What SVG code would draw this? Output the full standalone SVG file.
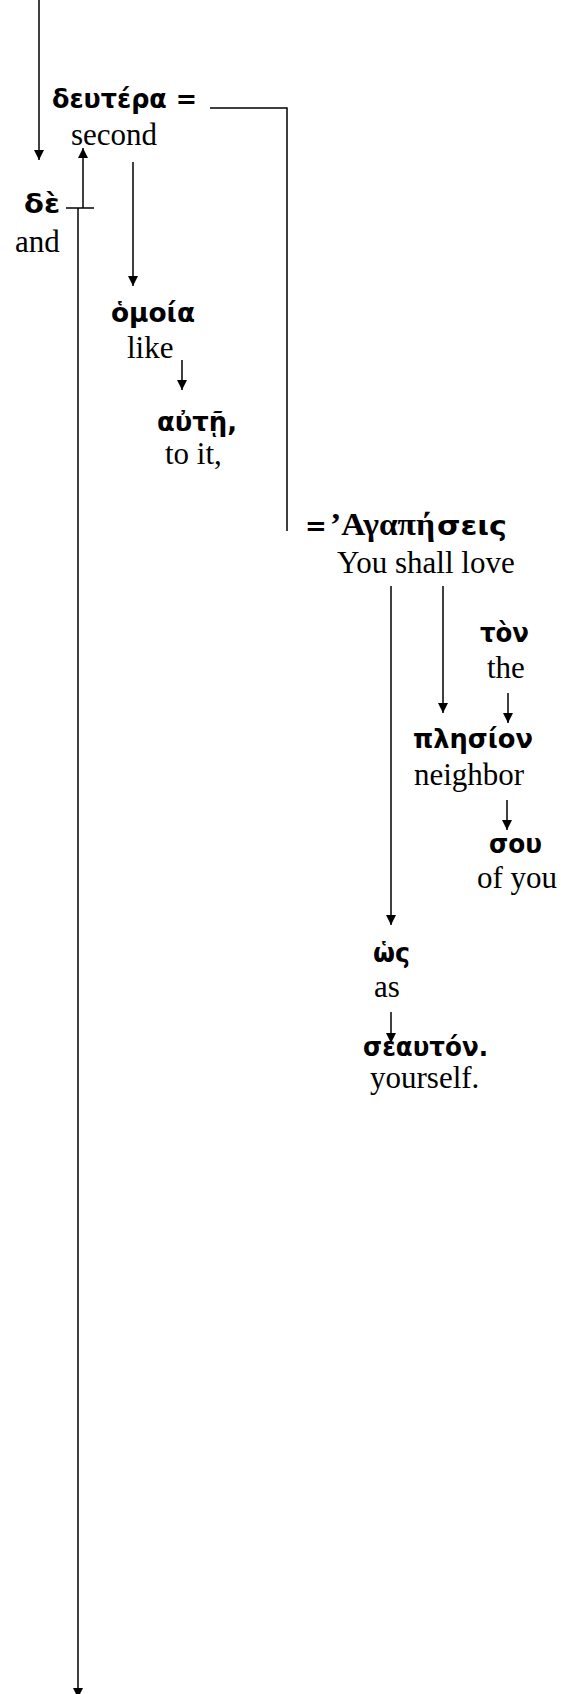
<svg xmlns="http://www.w3.org/2000/svg" width="565" height="1694" viewBox="0 0 565 1694">
<style>
.gk{font-family:"DejaVu Sans","Noto Sans",sans-serif;font-weight:bold;font-size:26px;fill:#000}
.gs{font-family:"Liberation Serif","Times New Roman",serif;font-weight:bold;font-size:31px}
.en{font-family:"Liberation Serif","Times New Roman",serif;font-size:31px;fill:#000}
.ln{stroke:#000;stroke-width:1.5;fill:none}
.ar{marker-end:url(#ah)}
</style>
<defs>
<marker id="ah" markerUnits="userSpaceOnUse" markerWidth="10" markerHeight="10" refX="10" refY="5" orient="auto">
<path d="M0,0 L10,5 L0,10 z" fill="#000"/>
</marker>
</defs>
<rect width="565" height="1694" fill="#fff"/>
<g id="connectors">
<line class="ln ar" x1="39" y1="0" x2="39" y2="160"/>
<polyline class="ln" points="210,108 287,108 287,531"/>
<line class="ln ar" x1="83" y1="208" x2="83" y2="148"/>
<line class="ln" x1="66" y1="208" x2="94" y2="208"/>
<line class="ln ar" x1="78" y1="208" x2="78" y2="1698"/>
<line class="ln ar" x1="133" y1="162" x2="133" y2="286"/>
<line class="ln ar" x1="182" y1="360" x2="182" y2="390"/>
<line class="ln ar" x1="391" y1="586" x2="391" y2="925"/>
<line class="ln ar" x1="443" y1="586" x2="443" y2="713"/>
<line class="ln ar" x1="508" y1="693" x2="508" y2="723"/>
<line class="ln ar" x1="507" y1="800" x2="507" y2="830"/>
<line class="ln ar" x1="391" y1="1012" x2="391" y2="1043"/>
</g>
<g id="n-deutera"><text class="gk" x="52" y="108" textLength="145" lengthAdjust="spacingAndGlyphs">δευτέρα =</text><text class="en" x="71" y="145">second</text></g>
<g id="n-de"><text class="gk" x="24" y="213" textLength="36" lengthAdjust="spacingAndGlyphs">δὲ</text><text class="en" x="15" y="252">and</text></g>
<g id="n-homoia"><text class="gk" x="111" y="322" textLength="84" lengthAdjust="spacingAndGlyphs">ὁμοία</text><text class="en" x="127" y="358">like</text></g>
<g id="n-aute"><text class="gk" x="157" y="431" textLength="80" lengthAdjust="spacingAndGlyphs">αὐτῇ,</text><text class="en" x="165" y="464">to it,</text></g>
<g id="n-agapeseis"><text class="gk" y="535"><tspan x="305">=</tspan><tspan class="gs" x="330" textLength="105" lengthAdjust="spacingAndGlyphs">’Αγαπή</tspan><tspan x="437" textLength="70" lengthAdjust="spacingAndGlyphs">σεις</tspan></text><text class="en" x="337" y="573">You shall love</text></g>
<g id="n-ton"><text class="gk" x="480" y="642" textLength="49" lengthAdjust="spacingAndGlyphs">τὸν</text><text class="en" x="487" y="678">the</text></g>
<g id="n-plesion"><text class="gk" x="413" y="748" textLength="120" lengthAdjust="spacingAndGlyphs">πλησίον</text><text class="en" x="414" y="785">neighbor</text></g>
<g id="n-sou"><text class="gk" x="489" y="853" textLength="53" lengthAdjust="spacingAndGlyphs">σου</text><text class="en" x="477" y="888">of you</text></g>
<g id="n-hos"><text class="gk" x="373" y="962" textLength="37" lengthAdjust="spacingAndGlyphs">ὡς</text><text class="en" x="374" y="997">as</text></g>
<g id="n-seauton"><text class="gk" x="363" y="1056" textLength="125" lengthAdjust="spacingAndGlyphs">σεαυτόν.</text><text class="en" x="370" y="1088">yourself.</text></g>
</svg>
